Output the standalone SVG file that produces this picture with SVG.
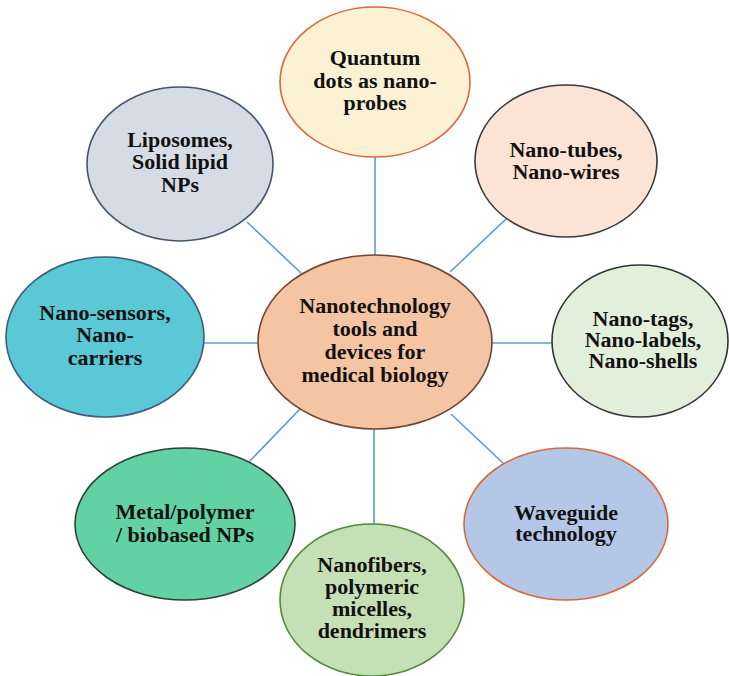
<svg xmlns="http://www.w3.org/2000/svg" width="729" height="676" viewBox="0 0 729 676">
  <style>
    .link { stroke: #5b9bd5; stroke-width: 1.6; fill: none; }
    .node ellipse { stroke-width: 1.6; }
    .label { font-family: "Liberation Serif", "Times New Roman", serif; font-weight: 700; font-size: 20px; fill: #111; text-anchor: middle; }
  </style>
  <rect width="729" height="676" fill="#ffffff"/>

  <!-- spokes from the hub to each satellite -->
  <g id="connectors">
    <line class="link" x1="375" y1="157" x2="375" y2="256"/>
    <line class="link" x1="450" y1="272" x2="506" y2="219"/>
    <line class="link" x1="491" y1="343" x2="553" y2="343"/>
    <line class="link" x1="451" y1="414" x2="504" y2="464"/>
    <line class="link" x1="374" y1="429" x2="374" y2="525"/>
    <line class="link" x1="300" y1="409" x2="248" y2="463"/>
    <line class="link" x1="204" y1="343" x2="259" y2="343"/>
    <line class="link" x1="247" y1="222" x2="301" y2="273"/>
  </g>

  <!-- labels are set slightly wide: each label group is stretched 10% horizontally about its centre -->
  <g id="hub" class="node">
    <ellipse cx="375" cy="342" rx="117" ry="87" fill="#f5c4a3" stroke="#6e4634"/>
    <g class="label" transform="translate(375 0) scale(1.1 1)">
      <text x="0" y="313">Nanotechnology</text>
      <text x="0" y="336">tools and</text>
      <text x="0" y="359">devices for</text>
      <text x="0" y="382">medical biology</text>
    </g>
  </g>

  <g id="quantum-dots" class="node">
    <ellipse cx="375" cy="82" rx="95" ry="75" fill="#fdf1d4" stroke="#d9683c"/>
    <g class="label" transform="translate(375 0) scale(1.1 1)">
      <text x="0" y="65">Quantum</text>
      <text x="0" y="88">dots as nano-</text>
      <text x="0" y="110">probes</text>
    </g>
  </g>

  <g id="nano-tubes" class="node">
    <ellipse cx="566" cy="161" rx="91" ry="76" fill="#fbe3d5" stroke="#3a3a3a"/>
    <g class="label" transform="translate(566 0) scale(1.1 1)">
      <text x="0" y="157">Nano-tubes,</text>
      <text x="0" y="179">Nano-wires</text>
    </g>
  </g>

  <g id="nano-tags" class="node">
    <ellipse cx="640" cy="341" rx="88" ry="76" fill="#e2efda" stroke="#333333"/>
    <g class="label" transform="translate(643 0) scale(1.1 1)">
      <text x="0" y="326">Nano-tags,</text>
      <text x="0" y="347">Nano-labels,</text>
      <text x="0" y="368">Nano-shells</text>
    </g>
  </g>

  <g id="waveguide" class="node">
    <ellipse cx="566" cy="524" rx="102" ry="76" fill="#b4c7e7" stroke="#d9683c"/>
    <g class="label" transform="translate(566 0) scale(1.1 1)">
      <text x="0" y="520">Waveguide</text>
      <text x="0" y="541">technology</text>
    </g>
  </g>

  <g id="nanofibers" class="node">
    <ellipse cx="372" cy="600" rx="92" ry="76" fill="#c5e0b4" stroke="#4f8a3a"/>
    <g class="label" transform="translate(372 0) scale(1.1 1)">
      <text x="0" y="572">Nanofibers,</text>
      <text x="0" y="594">polymeric</text>
      <text x="0" y="616">micelles,</text>
      <text x="0" y="638">dendrimers</text>
    </g>
  </g>

  <g id="metal-polymer" class="node">
    <ellipse cx="185" cy="524" rx="110" ry="76" fill="#62d2a5" stroke="#2f3f3a"/>
    <g class="label" transform="translate(185 0) scale(1.1 1)">
      <text x="0" y="519">Metal/polymer</text>
      <text x="0" y="542">/ biobased NPs</text>
    </g>
  </g>

  <g id="nano-sensors" class="node">
    <ellipse cx="105" cy="337" rx="99" ry="80" fill="#5bc8d5" stroke="#3f5c7a"/>
    <g class="label" transform="translate(105 0) scale(1.1 1)">
      <text x="0" y="320">Nano-sensors,</text>
      <text x="0" y="342">Nano-</text>
      <text x="0" y="365">carriers</text>
    </g>
  </g>

  <g id="liposomes" class="node">
    <ellipse cx="180" cy="164" rx="93" ry="77" fill="#d6dce5" stroke="#44546a"/>
    <g class="label" transform="translate(180 0) scale(1.1 1)">
      <text x="0" y="147">Liposomes,</text>
      <text x="0" y="169">Solid lipid</text>
      <text x="0" y="192">NPs</text>
    </g>
  </g>
</svg>
